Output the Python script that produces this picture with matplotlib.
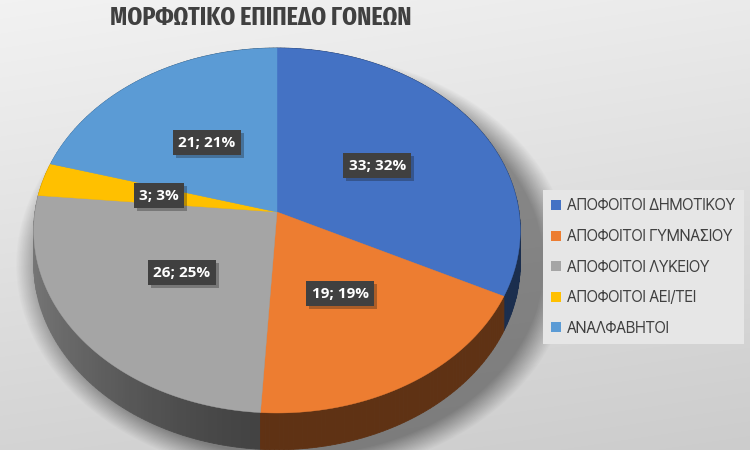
import numpy as np
import matplotlib
matplotlib.use("Agg")
import matplotlib.pyplot as plt
import matplotlib.patheffects as pe
from matplotlib.patches import Polygon, Patch
from matplotlib import font_manager
from matplotlib.ft2font import FT2Font

# data
labels = ["ΑΠΟΦΟΙΤΟΙ ΔΗΜΟΤΙΚΟΥ", "ΑΠΟΦΟΙΤΟΙ ΓΥΜΝΑΣΙΟΥ", "ΑΠΟΦΟΙΤΟΙ ΛΥΚΕΙΟΥ",
          "ΑΠΟΦΟΙΤΟΙ ΑΕΙ/ΤΕΙ", "ΑΝΑΛΦΑΒΗΤΟΙ"]
values = [33, 19, 26, 3, 21]
colors = ["#4472C4", "#ED7D31", "#A5A5A5", "#FFC000", "#5B9BD5"]
title = "ΜΟΡΦΩΤΙΚΟ ΕΠΙΠΕΔΟ ΓΟΝΕΩΝ"

# projection of the tilted disk (pixel space)
CX, CY = 277, 212
A, B, K, H = 242, 180.6, 0.1014, 33


def proj(r, ang, z=0.0):
    u = r * np.sin(ang)
    v = -r * np.cos(ang)
    w = 1 - K * v
    return CX + A * u / w, CY + (B * v + H * z) / w


def shade(c, f):
    rgb = np.array(matplotlib.colors.to_rgb(c))
    return tuple(rgb * f)


def has_glyphs(fname, text):
    try:
        cmap = FT2Font(fname).get_charmap()
    except Exception:
        return False
    return all(ord(ch) in cmap for ch in set(text) if ch != " ")


def candidates(bold, text):
    out = []
    for f in font_manager.fontManager.ttflist:
        nm = (f.name + " " + f.fname).lower()
        w = f.weight if isinstance(f.weight, int) else (700 if "bold" in str(f.weight) else 400)
        if bold and not (600 <= w <= 750):
            continue
        if not bold and not (350 <= w <= 450):
            continue
        if "italic" in nm or "oblique" in nm or f.style != "normal" or "mono" in nm:
            continue
        if f.fname in out or not has_glyphs(f.fname, text):
            continue
        out.append(f.fname)
    return out


def best_font(text, bold, size, width, renderer):
    # pick the face whose natural width is closest to the target width
    best, best_sc, best_w = None, 1e9, None
    for fn in candidates(bold, text):
        fp = font_manager.FontProperties(fname=fn, size=size)
        try:
            tt = fig.text(0, 0, text, fontproperties=fp)
            w = tt.get_window_extent(renderer).width
            tt.remove()
        except Exception:
            continue
        sc = abs(np.log(w / width))
        if sc < best_sc:
            best, best_sc, best_w = fp, sc, w
    if best is None:
        best = font_manager.FontProperties(family="DejaVu Sans", size=size,
                                           weight="bold" if bold else "normal")
        best_w = width
    if best_w > width:
        best.set_size(size * width / best_w)
    return best


fig = plt.figure(figsize=(7.5, 4.5), dpi=100)
ax = fig.add_axes([0, 0, 1, 1])
ax.set_xlim(0, 750)
ax.set_ylim(450, 0)
ax.axis("off")
fig.canvas.draw()
rend = fig.canvas.get_renderer()

# background gradient
yy, xx = np.mgrid[0:450, 0:750]
bg = 0.95 - 0.12 * (yy / 450) - 0.03 * (xx / 750)
ax.imshow(np.dstack([bg, bg, bg]), extent=(0, 750, 450, 0), zorder=0)

# soft shadow
d = np.sqrt(((xx - 293) / 255.0) ** 2 + ((yy - 264) / 195.0) ** 2)
sh = np.zeros((450, 750, 4))
sh[..., 3] = 0.4 * np.clip((1.09 - d) / 0.11, 0, 1)
ax.imshow(sh, extent=(0, 750, 450, 0), zorder=1)

total = sum(values)
fracs = [v / total for v in values]
starts = np.cumsum([0] + fracs[:-1]) * 2 * np.pi
ends = np.cumsum(fracs) * 2 * np.pi

# sides
segs = []
for c, a0, a1 in zip(colors, starts, ends):
    n = max(3, int(np.degrees(a1 - a0)))
    aa = np.linspace(a0, a1, n + 1)
    for i in range(n):
        am = 0.5 * (aa[i] + aa[i + 1])
        u = np.sin(am)
        f = 0.4 + 0.32 * max(0.0, -u) ** 1.5
        pts = [proj(1, aa[i]), proj(1, aa[i + 1]),
               proj(1, aa[i + 1], 1), proj(1, aa[i], 1)]
        segs.append((-np.cos(am), pts, shade(c, f)))
segs.sort(key=lambda s: s[0])
for _, pts, col in segs:
    ax.add_patch(Polygon(pts, closed=True, fc=col, ec=col, lw=0.6, zorder=2))

# top faces
for c, a0, a1 in zip(colors, starts, ends):
    aa = np.linspace(a0, a1, 200)
    pts = [proj(0, 0)] + [proj(1, a) for a in aa]
    ax.add_patch(Polygon(pts, closed=True, fc=c, ec=c, lw=0.3, zorder=3))

# data labels
for v, p, a0, a1 in zip(values, fracs, starts, ends):
    x, y = proj(0.5, 0.5 * (a0 + a1))
    txt = f"{v}; {round(p * 100)}%"
    t = ax.text(x, y, txt, ha="center", va="center", fontsize=11,
                fontweight="bold", color="white", family="Open Sans",
                bbox=dict(boxstyle="square,pad=0.35", fc="#404040", ec="none"),
                zorder=5)
    t.get_bbox_patch().set_path_effects(
        [pe.SimplePatchShadow(offset=(2, -2), alpha=0.3), pe.Normal()])

tfp = best_font(title, True, 20, 300, rend)
fig.text(261 / 750, 1 - 18 / 450, title, ha="center", va="center",
         fontproperties=tfp, color="#404040")

lfp = best_font(labels[0], False, 11, 168, rend)
fs = lfp.get_size()

handles = [Patch(fc=c, ec="none") for c in colors]
leg = fig.legend(handles, labels, loc="center left",
                 bbox_to_anchor=(543 / 750, 1 - 267 / 450), borderaxespad=0,
                 frameon=True, labelspacing=30 / (fs * 100 / 72) - 0.95,
                 handlelength=0.65 * 11 / fs, handleheight=0.65 * 11 / fs,
                 handletextpad=0.4, borderpad=0.55, fancybox=False, prop=lfp)
leg.get_frame().set_facecolor("#e6e6e6")
leg.get_frame().set_edgecolor("none")
leg.get_frame().set_alpha(1)
for tx in leg.get_texts():
    tx.set_color("#404040")

fig.savefig("out.png", dpi=100)
